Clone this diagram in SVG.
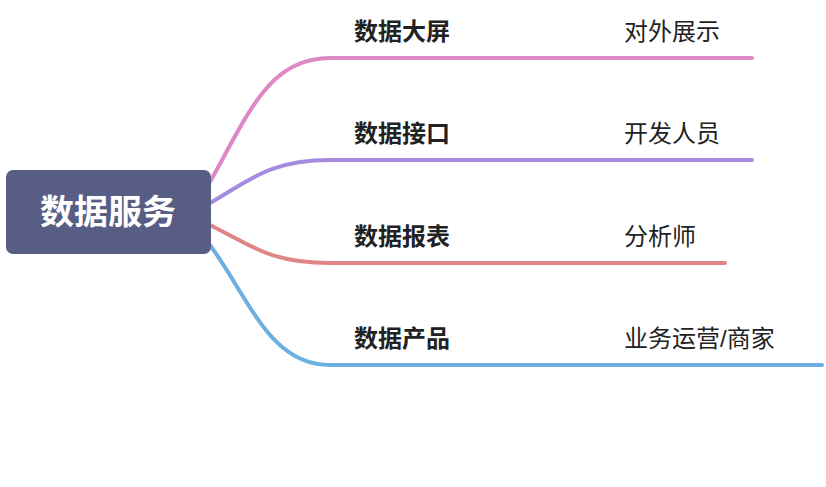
<svg xmlns="http://www.w3.org/2000/svg" width="826" height="487" viewBox="0 0 826 487">
<style>
.c{fill:none;stroke-width:4;stroke-linecap:round}
.b{font-family:"Liberation Sans","Noto Sans CJK SC",sans-serif;font-size:24px;font-weight:bold;fill:#222}
.r{font-family:"Liberation Sans","Noto Sans CJK SC",sans-serif;font-size:24px;fill:#222}
</style>
<rect width="826" height="487" fill="#fff"/>
<g id="connectors">
<path class="c" stroke="#dc89c6" d="M210,182 C250,110 270,58 330,58 L752,58"/>
<path class="c" stroke="#a58be0" d="M210,203 C250,180 270,160 330,160 L752,160"/>
<path class="c" stroke="#e08585" d="M210,225 C250,245 270,263 330,263 L725,263"/>
<path class="c" stroke="#6cb0e2" d="M210,245 C250,300 270,365 330,365 L822,365"/>
</g>
<g id="root">
<rect x="6" y="170" width="205" height="84" rx="7" fill="#585e83"/>
<text x="108" y="224" text-anchor="middle" font-family="Liberation Sans,Noto Sans CJK SC,sans-serif" font-size="34" font-weight="bold" fill="#fff">数据服务</text>
</g>
<g id="n1"><text class="b" x="354" y="40">数据大屏</text><text class="r" x="624" y="40">对外展示</text></g>
<g id="n2"><text class="b" x="354" y="142">数据接口</text><text class="r" x="624" y="142">开发人员</text></g>
<g id="n3"><text class="b" x="354" y="245">数据报表</text><text class="r" x="624" y="245">分析师</text></g>
<g id="n4"><text class="b" x="354" y="347">数据产品</text><text class="r" x="624" y="347">业务运营/商家</text></g>
</svg>
